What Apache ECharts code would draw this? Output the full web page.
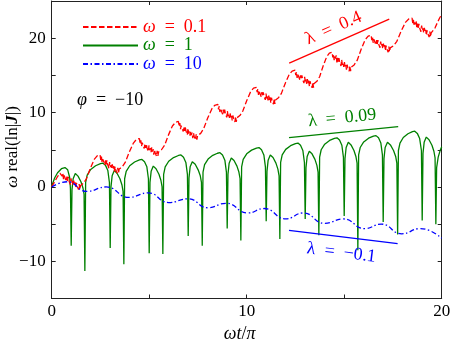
<!DOCTYPE html>
<html>
<head>
<meta charset="utf-8">
<script src="https://cdn.jsdelivr.net/npm/echarts@6/dist/echarts.min.js"></script>
<style>html,body{margin:0;padding:0;background:#fff}#c{width:450px;height:344px}</style>
</head>
<body>
<div id="c"></div>
<script>
// ---------- data ----------
const xTickLabels = [0, 10, 20];
const yTickLabels = [-10, 0, 10, 20];
const seriesNames = ['ω = 0.1', 'ω = 1', 'ω = 10'];
const seriesColors = ['#ff0000', '#008000', '#0000ff'];

// ω = 0.1 (red, dashed): staircase with jittery descending parts
const redData = [
  [0,0],[0.15,0.7],[0.3,1.4],[0.42,1.85],
  [0.5,2.1],[0.535,1.44],[0.57,1.87],[0.605,1.06],[0.64,1.54],[0.675,1.28],[0.71,1.71],[0.745,0.75],[0.78,1.39],[0.815,0.82],[0.85,1.36],[0.885,0.84],[0.92,1.08],[0.955,0.31],[0.99,1.15],[1.025,0.49],[1.06,0.77],[1.095,0.21],[1.13,0.84],[1.165,0.28],[1.2,0.61],[1.235,-0.15],[1.27,0.54],[1.305,0.12],[1.34,0.21],[1.375,-0.36],[1.41,0.38],[1.445,-0.34],[1.48,0.2],
  [1.63,0.5],[1.78,1.1],[1.98,2.5],[2.18,3.7],[2.33,4.18],
  [2.48,4.3],[2.515,3.64],[2.55,4.07],[2.585,3.26],[2.62,3.74],[2.655,3.48],[2.69,3.91],[2.725,2.95],[2.76,3.59],[2.795,3.02],[2.83,3.56],[2.865,3.04],[2.9,3.28],[2.935,2.51],[2.97,3.35],[3.005,2.69],[3.04,2.97],[3.075,2.41],[3.11,3.04],[3.145,2.48],[3.18,2.81],[3.215,2.05],[3.25,2.74],[3.285,2.32],[3.32,2.41],[3.355,1.84],[3.39,2.58],[3.425,1.86],[3.46,2.4],
  [3.62,2.7],[3.77,3.3],[3.98,4.7],[4.19,5.9],[4.34,6.38],
  [4.5,6.5],[4.535,5.84],[4.57,6.28],[4.605,5.47],[4.64,5.96],[4.675,5.7],[4.71,6.14],[4.745,5.18],[4.78,5.81],[4.815,5.25],[4.85,5.79],[4.885,5.28],[4.92,5.52],[4.955,4.76],[4.99,5.6],[5.025,4.94],[5.06,5.23],[5.095,4.67],[5.13,5.31],[5.165,4.75],[5.2,5.09],[5.235,4.33],[5.27,5.01],[5.305,4.6],[5.34,4.69],[5.375,4.13],[5.41,4.87],[5.445,4.16],[5.48,4.7],
  [5.63,5.0],[5.79,5.6],[5.99,7.0],[6.19,8.2],[6.35,8.68],
  [6.5,8.8],[6.535,8.14],[6.57,8.57],[6.605,7.76],[6.64,8.24],[6.675,7.98],[6.71,8.41],[6.745,7.45],[6.78,8.09],[6.815,7.52],[6.85,8.06],[6.885,7.54],[6.92,7.78],[6.955,7.01],[6.99,7.85],[7.025,7.19],[7.06,7.47],[7.095,6.91],[7.13,7.54],[7.165,6.98],[7.2,7.31],[7.235,6.55],[7.27,7.24],[7.305,6.82],[7.34,6.91],[7.375,6.34],[7.41,7.08],[7.445,6.36],[7.48,6.9],
  [7.64,7.2],[7.79,7.82],[8.0,9.26],[8.21,10.49],[8.36,10.98],
  [8.52,11.1],[8.555,10.44],[8.59,10.88],[8.625,10.07],[8.66,10.56],[8.695,10.3],[8.73,10.74],[8.765,9.78],[8.8,10.41],[8.835,9.85],[8.87,10.39],[8.905,9.88],[8.94,10.12],[8.975,9.36],[9.01,10.2],[9.045,9.54],[9.08,9.83],[9.115,9.27],[9.15,9.91],[9.185,9.35],[9.22,9.69],[9.255,8.93],[9.29,9.61],[9.325,9.2],[9.36,9.29],[9.395,8.73],[9.43,9.47],[9.465,8.76],[9.5,9.3],
  [9.65,9.6],[9.80,10.2],[10.0,11.6],[10.2,12.8],[10.35,13.28],
  [10.5,13.4],[10.535,12.74],[10.57,13.19],[10.605,12.38],[10.64,12.87],[10.675,12.61],[10.71,13.06],[10.745,12.1],[10.78,12.74],[10.815,12.19],[10.85,12.73],[10.885,12.22],[10.92,12.46],[10.955,11.71],[10.99,12.55],[11.025,11.89],[11.06,12.19],[11.095,11.63],[11.13,12.27],[11.165,11.71],[11.2,12.06],[11.235,11.3],[11.27,11.99],[11.305,11.59],[11.34,11.68],[11.375,11.12],[11.41,11.86],[11.445,11.16],[11.48,11.7],
  [11.63,11.99],[11.78,12.58],[11.98,13.95],[12.18,15.12],[12.33,15.58],
  [12.48,15.7],[12.515,15.04],[12.55,15.48],[12.585,14.67],[12.62,15.16],[12.655,14.9],[12.69,15.34],[12.725,14.38],[12.76,15.01],[12.795,14.45],[12.83,14.99],[12.865,14.48],[12.9,14.72],[12.935,13.96],[12.97,14.8],[13.005,14.14],[13.04,14.43],[13.075,13.87],[13.11,14.51],[13.145,13.95],[13.18,14.29],[13.215,13.53],[13.25,14.21],[13.285,13.8],[13.32,13.89],[13.355,13.33],[13.39,14.07],[13.425,13.36],[13.46,13.9],
  [13.6,14.2],[13.74,14.82],[13.92,16.26],[14.1,17.49],[14.24,17.98],
  [14.38,18.1],[14.415,17.43],[14.45,17.86],[14.485,17.05],[14.52,17.53],[14.555,17.26],[14.59,17.69],[14.625,16.73],[14.66,17.36],[14.695,16.79],[14.73,17.32],[14.765,16.8],[14.8,17.04],[14.835,16.27],[14.87,17.1],[14.905,16.43],[14.94,16.71],[14.975,16.15],[15.01,16.78],[15.045,16.21],[15.08,16.54],[15.115,15.78],[15.15,16.46],[15.185,16.04],[15.22,16.12],[15.255,15.55],[15.29,16.29],[15.325,15.57],[15.36,16.1],
  [15.51,16.41],[15.67,17.04],[15.87,18.51],[16.07,19.77],[16.23,20.27],
  [16.38,20.4],[16.415,19.74],[16.45,20.19],[16.485,19.38],[16.52,19.87],[16.555,19.61],[16.59,20.06],[16.625,19.1],[16.66,19.74],[16.695,19.19],[16.73,19.73],[16.765,19.22],[16.8,19.46],[16.835,18.71],[16.87,19.55],[16.905,18.89],[16.94,19.19],[16.975,18.63],[17.01,19.27],[17.045,18.71],[17.08,19.06],[17.115,18.3],[17.15,18.99],[17.185,18.59],[17.22,18.68],[17.255,18.12],[17.29,18.86],[17.325,18.16],[17.36,18.7],
  [17.53,18.99],[17.7,19.58],[17.92,20.95],[18.14,22.12],[18.31,22.58],
  [18.48,22.7],[18.515,22.03],[18.55,22.46],[18.585,21.65],[18.62,22.13],[18.655,21.86],[18.69,22.29],[18.725,21.33],[18.76,21.96],[18.795,21.39],[18.83,21.92],[18.865,21.4],[18.9,21.64],[18.935,20.87],[18.97,21.7],[19.005,21.03],[19.04,21.31],[19.075,20.75],[19.11,21.38],[19.145,20.81],[19.18,21.14],[19.215,20.38],[19.25,21.06],[19.285,20.64],[19.32,20.72],[19.355,20.15],[19.39,20.89],[19.425,20.17],[19.46,20.7],
  [19.56,20.95],[19.66,21.4],[19.78,22.1],[19.9,22.75],[20.0,23.2]
];

// ω = 1 (green, solid): arcs with sharp downward cusps
const greenData = [
  [0,0.1],[0.15,1.2],[0.3,1.9],[0.5,2.45],[0.68,2.6],[0.82,2.3],[0.92,1.3],[0.96,-0.2],[1.0,-7.9],
  [1.04,-0.4],[1.10,1.1],[1.21,1.8],[1.35,1.45],[1.50,0.7],[1.60,-0.1],[1.66,-1.0],[1.7,-11.3],
  [1.74,0.6],[1.82,1.6],[2.0,2.35],[2.25,2.85],[2.5,3.13],[2.63,3.2],[2.76,2.9],[2.88,2.2],[2.96,0.6],[3.0,-8.2],
  [3.04,0.0],[3.10,1.5],[3.21,2.2],[3.35,1.85],[3.50,1.1],[3.60,0.3],[3.66,-0.6],[3.7,-10.4],
  [3.74,1.1],[3.82,2.1],[4.0,2.85],[4.25,3.35],[4.5,3.63],[4.63,3.7],[4.76,3.4],[4.88,2.7],[4.96,1.1],[5.0,-8.9],
  [5.04,0.6],[5.10,2.1],[5.21,2.8],[5.35,2.45],[5.50,1.7],[5.60,0.9],[5.66,0.0],[5.7,-9.0],
  [5.74,1.7],[5.82,2.7],[6.0,3.45],[6.25,3.95],[6.5,4.23],[6.63,4.3],[6.76,4.0],[6.88,3.3],[6.96,1.7],[7.0,-6.6],
  [7.04,1.2],[7.10,2.7],[7.21,3.4],[7.36,3.05],[7.51,2.3],[7.62,1.5],[7.68,0.6],[7.72,-7.9],
  [7.76,2.0],[7.84,3.0],[8.02,3.75],[8.26,4.25],[8.5,4.53],[8.63,4.6],[8.76,4.3],[8.88,3.6],[8.96,2.0],[9.0,-5.6],
  [9.04,1.7],[9.10,3.2],[9.21,3.9],[9.35,3.55],[9.50,2.8],[9.60,2.0],[9.66,1.1],[9.7,-7.2],
  [9.74,2.7],[9.82,3.7],[10.0,4.45],[10.25,4.95],[10.5,5.23],[10.63,5.3],[10.76,5.0],[10.88,4.3],[10.96,2.7],[11.0,-4.6],
  [11.04,2.1],[11.10,3.6],[11.21,4.3],[11.35,3.95],[11.50,3.2],[11.60,2.4],[11.66,1.5],[11.7,-7.0],
  [11.74,3.3],[11.82,4.3],[12.0,5.05],[12.25,5.55],[12.5,5.83],[12.63,5.9],[12.76,5.6],[12.88,4.9],[12.96,3.3],[13.0,-4.3],
  [13.04,2.6],[13.10,4.1],[13.21,4.8],[13.35,4.45],[13.50,3.7],[13.60,2.9],[13.66,2.0],[13.7,-6.5],
  [13.74,4.0],[13.82,5.0],[14.0,5.75],[14.25,6.25],[14.5,6.53],[14.63,6.6],[14.76,6.3],[14.88,5.6],[14.96,4.0],[15.0,-3.9],
  [15.04,3.8],[15.10,5.3],[15.21,6.0],[15.35,5.65],[15.50,4.9],[15.60,4.1],[15.66,3.2],[15.7,-8.5],
  [15.74,4.3],[15.82,5.3],[16.0,6.05],[16.25,6.55],[16.5,6.83],[16.63,6.9],[16.76,6.6],[16.88,5.9],[16.96,4.3],[17.0,-4.7],
  [17.04,3.8],[17.10,5.3],[17.22,6.0],[17.37,5.65],[17.53,4.9],[17.64,4.1],[17.70,3.2],[17.74,-6.4],
  [17.78,4.9],[17.86,5.9],[18.03,6.65],[18.27,7.15],[18.5,7.43],[18.62,7.5],[18.75,7.2],[18.87,6.5],[18.96,4.9],[19.0,-4.5],
  [19.04,4.5],[19.10,6.0],[19.21,6.7],[19.35,6.35],[19.50,5.6],[19.60,4.8],[19.66,3.9],[19.7,-5.0],
  [19.74,2.6],[19.82,4.0],[19.92,4.9],[20.0,5.4]
];

// ω = 10 (blue, dash-dot): slow decaying wave (extrema)
const blueData = [
  [0,0],[0.8,0.7],[1.8,-0.6],[2.8,0.0],[3.95,-1.4],[4.95,-0.8],[6.0,-2.1],[7.0,-1.6],[8.0,-2.8],[8.95,-2.2],
  [10.05,-3.5],[10.9,-2.9],[12.0,-4.3],[12.9,-3.5],[14.0,-4.9],[14.95,-4.3],[16.05,-5.6],[16.9,-5.0],[17.95,-6.3],[18.9,-5.6],[20,-6.9]
];

// guide lines for the growth rates λ
const lambdaLabels = ['λ\u2002=\u20020.4', 'λ\u2002=\u20020.09', 'λ\u2002=\u2002−0.1'];
const lambdaLines = [
  [[12.18, 16.65], [17.31, 22.57]],
  [[12.17, 6.64], [17.77, 8.12]],
  [[12.17, -5.83], [17.74, -7.63]]
];
const phiLabel = '{i|φ}\u2002=\u2002−10';
const yAxisTitle = '{i|ω} real(ln|{b|J}|)';
const xAxisTitle = '{i|ωt}/{i|π}';

// ---------- chart ----------
const SERIF = '"Liberation Serif", "DejaVu Serif", serif';
const chart = echarts.init(document.getElementById('c'), null, {renderer: 'canvas'});
const axisColor = '#222';
const fmtNum = v => (v < 0 ? '−' + Math.abs(v) : String(v));

function lambdaMarkLine(i, pos, dist) {
  return {
    silent: true,
    symbol: ['none', 'none'],
    animation: false,
    lineStyle: {type: 'solid', width: 1.3, color: seriesColors[i]},
    label: {
      show: true, position: pos, distance: dist,
      formatter: lambdaLabels[i], color: seriesColors[i],
      fontFamily: SERIF, fontSize: 18
    },
    data: [[{coord: lambdaLines[i][0]}, {coord: lambdaLines[i][1]}]]
  };
}

const baseAxisX = {
  type: 'value', min: 0, max: 20, interval: 5,
  axisLine: {onZero: false, lineStyle: {color: axisColor, width: 1}},
  axisTick: {inside: true, length: 4, lineStyle: {color: axisColor}},
  splitLine: {show: false}
};
const baseAxisY = {
  type: 'value', min: -15, max: 25, interval: 5,
  axisLine: {onZero: false, lineStyle: {color: axisColor, width: 1}},
  axisTick: {inside: true, length: 4, lineStyle: {color: axisColor}},
  splitLine: {show: false}
};

const option = {
  animation: false,
  backgroundColor: '#fff',
  grid: {left: 51.7, right: 8.3, top: 1, bottom: 45.5, containLabel: false, outerBoundsMode: 'none'},
  xAxis: [
    Object.assign({}, baseAxisX, {
      position: 'bottom',
      axisLabel: {
        color: '#000', fontFamily: SERIF, fontSize: 17, margin: 5,
        formatter: v => (xTickLabels.includes(v) ? fmtNum(v) : '')
      },
      name: xAxisTitle, nameLocation: 'middle', nameGap: 19,
      nameTextStyle: {
        color: '#000', fontFamily: SERIF, fontSize: 18, verticalAlign: 'top',
        padding: [0, 14, 0, 0],
        rich: {i: {fontStyle: 'italic', fontFamily: SERIF, fontSize: 18, color: '#000'}}
      }
    }),
    Object.assign({}, baseAxisX, {position: 'top', axisLabel: {show: false}})
  ],
  yAxis: [
    Object.assign({}, baseAxisY, {
      position: 'left',
      axisLabel: {
        color: '#000', fontFamily: SERIF, fontSize: 17, margin: 6,
        formatter: v => (yTickLabels.includes(v) ? fmtNum(v) : '')
      }
    }),
    Object.assign({}, baseAxisY, {position: 'right', axisLabel: {show: false}})
  ],
  legend: {
    orient: 'vertical', left: 77, top: 13, itemGap: 0.5,
    itemWidth: 55, itemHeight: 14,
    selectedMode: false,
    itemStyle: {opacity: 0},
    formatter: name => '{i|ω}\u2002=\u2002' + name.split('= ')[1],
    textStyle: {fontFamily: SERIF, fontSize: 18},
    data: seriesNames.map((n, i) => ({
      name: n,
      textStyle: {
        color: seriesColors[i], fontFamily: SERIF, fontSize: 18,
        rich: {i: {fontStyle: 'italic', color: seriesColors[i], fontFamily: SERIF, fontSize: 18}}
      }
    }))
  },
  graphic: [
    {
      type: 'text', left: 77, top: 91,
      style: {
        text: phiLabel, fill: '#000', font: '18px ' + SERIF,
        rich: {i: {fontStyle: 'italic', fontFamily: SERIF, fontSize: 18, fill: '#000'}}
      }
    },
    {
      type: 'text', x: 12.5, y: 147, rotation: Math.PI / 2,
      style: {
        text: yAxisTitle, fill: '#000', font: '17px ' + SERIF,
        align: 'center', verticalAlign: 'middle',
        rich: {
          i: {fontStyle: 'italic', fontFamily: SERIF, fontSize: 17, fill: '#000'},
          b: {fontStyle: 'italic', fontWeight: 'bold', fontFamily: SERIF, fontSize: 17, fill: '#000'}
        }
      }
    }
  ],
  series: [
    {
      name: seriesNames[0], type: 'line', data: redData, symbol: 'none',
      lineStyle: {color: seriesColors[0], width: 1.3, type: [5.5, 2.5]},
      itemStyle: {color: seriesColors[0]},
      markLine: lambdaMarkLine(0, 'insideMiddleTop', 5),
      z: 3
    },
    {
      name: seriesNames[1], type: 'line', data: greenData, symbol: 'none',
      lineStyle: {color: seriesColors[1], width: 1.3, type: 'solid'},
      itemStyle: {color: seriesColors[1]},
      markLine: lambdaMarkLine(1, 'insideMiddleTop', 5),
      z: 2
    },
    {
      name: seriesNames[2], type: 'line', data: blueData, symbol: 'none', smooth: 0.5,
      lineStyle: {color: seriesColors[2], width: 1.3, type: [5, 2.5, 1.5, 2.5]},
      itemStyle: {color: seriesColors[2]},
      markLine: lambdaMarkLine(2, 'insideMiddleBottom', 7),
      z: 4
    }
  ]
};
chart.setOption(option);
</script>
</body>
</html>
